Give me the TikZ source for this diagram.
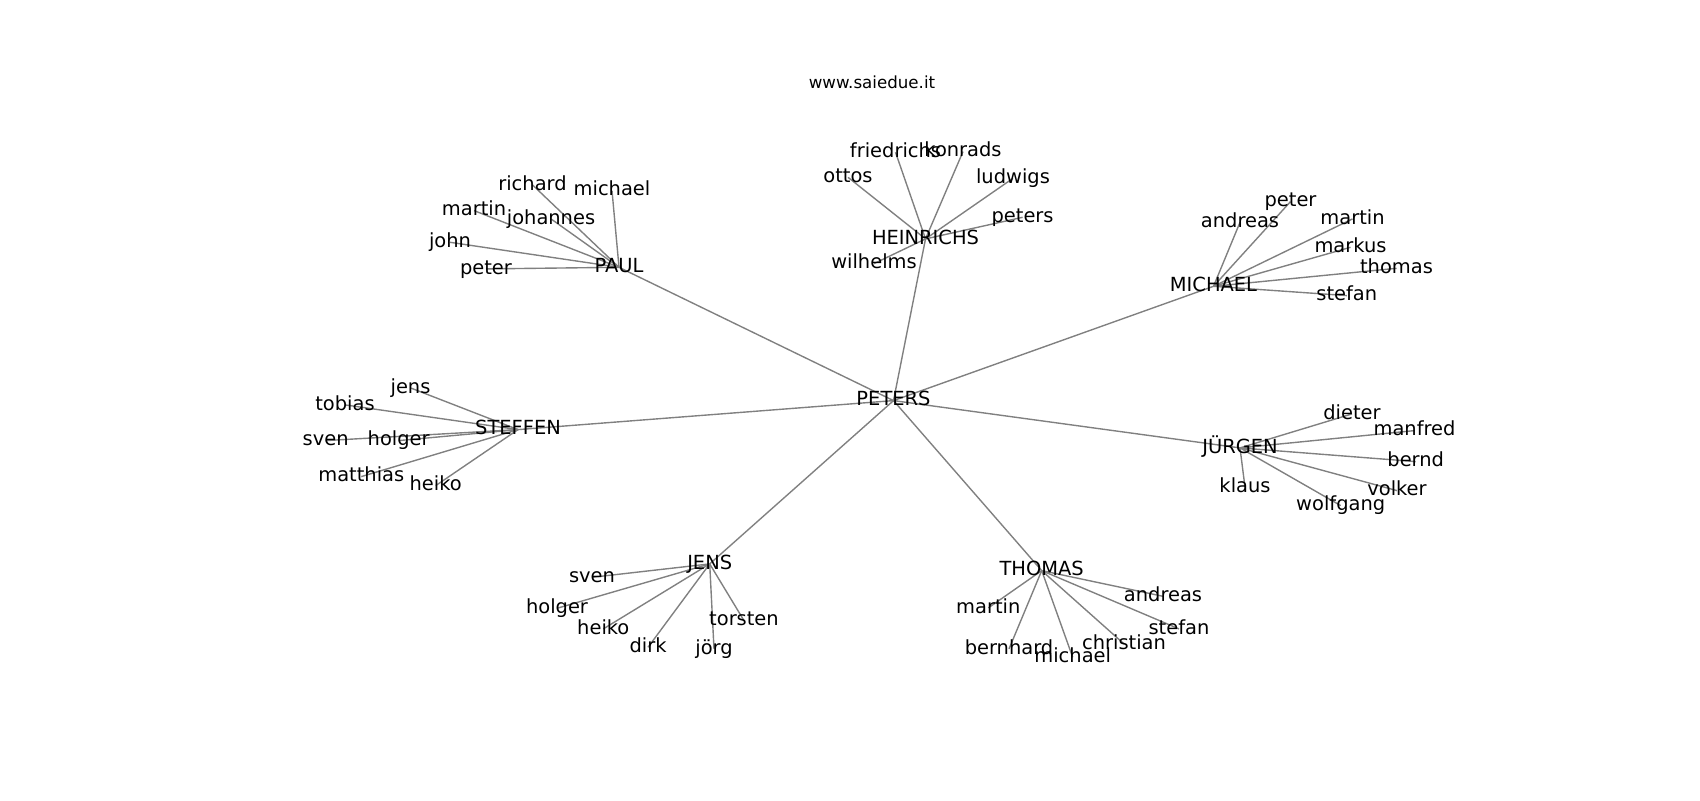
\documentclass[tikz,border=0pt]{standalone}
\usepackage{fontspec}
\setmainfont{DejaVu Sans}
\pgfdeclarelayer{bg}
\pgfsetlayers{bg,main}
\tikzset{
  lbl/.style={inner sep=0pt, outer sep=0pt, text height=10.64pt, text depth=2.91pt,
              font=\fontsize{14}{17}\selectfont, text=black},
  link/.style={draw=black!50, line width=1pt},
  ttl/.style={anchor=base, inner sep=0pt, font=\fontsize{12}{14}\selectfont}
}
\begin{document}
\begin{tikzpicture}[x=0.72pt,y=-0.72pt]
\useasboundingbox (0,0) rectangle (1700,800);
\node[ttl] (title) at (872,88.3) {www.saiedue.it};
\begin{scope}[yshift=-0.72pt]
% centre
\node[lbl] (peters) at (893.5,399.6) {PETERS};
% PAUL group
\node[lbl] (paul) at (619,266.3) {PAUL};
\node[lbl] (pa1) at (532.5,183.9) {richard};
\node[lbl] (pa2) at (612,189.6) {michael};
\node[lbl] (pa3) at (474,209.6) {martin};
\node[lbl] (pa4) at (551,217.9) {johannes};
\node[lbl] (pa5) at (450,241.3) {john};
\node[lbl] (pa6) at (486,267.9) {peter};
% HEINRICHS group
\node[lbl] (hein) at (925.5,237.9) {HEINRICHS};
\node[lbl] (he1) at (895.5,151.3) {friedrichs};
\node[lbl] (he2) at (963,150.6) {konrads};
\node[lbl] (he3) at (848,176.3) {ottos};
\node[lbl] (he4) at (1013,177.3) {ludwigs};
\node[lbl] (he5) at (1022.6,216.3) {peters};
\node[lbl] (he6) at (874,262.6) {wilhelms};
% MICHAEL group
\node[lbl] (mich) at (1213.5,285.3) {MICHAEL};
\node[lbl] (mi1) at (1290.5,200.6) {peter};
\node[lbl] (mi2) at (1240,221.3) {andreas};
\node[lbl] (mi3) at (1352.5,217.9) {martin};
\node[lbl] (mi4) at (1350.5,246.3) {markus};
\node[lbl] (mi5) at (1396.5,267.3) {thomas};
\node[lbl] (mi6) at (1346.8,294.6) {stefan};
% STEFFEN group
\node[lbl] (stef) at (518,428.6) {STEFFEN};
\node[lbl] (st1) at (410.5,386.9) {jens};
\node[lbl] (st2) at (345,403.9) {tobias};
\node[lbl] (st3) at (325.7,439.6) {sven};
\node[lbl] (st4) at (398.7,439.6) {holger};
\node[lbl] (st5) at (361.3,475.6) {matthias};
\node[lbl] (st6) at (435.7,484.6) {heiko};
% JUERGEN group
\node[lbl] (juer) at (1240,446.9) {JÜRGEN};
\node[lbl] (ju1) at (1352,412.9) {dieter};
\node[lbl] (ju2) at (1414.5,429.6) {manfred};
\node[lbl] (ju3) at (1415.7,460.6) {bernd};
\node[lbl] (ju4) at (1245,486.3) {klaus};
\node[lbl] (ju5) at (1397,489.6) {volker};
\node[lbl] (ju6) at (1340.7,504.6) {wolfgang};
% JENS group
\node[lbl] (jens) at (709.7,562.9) {JENS};
\node[lbl] (je1) at (592,576.3) {sven};
\node[lbl] (je2) at (557,607.3) {holger};
\node[lbl] (je3) at (603.3,627.9) {heiko};
\node[lbl] (je4) at (648,646.3) {dirk};
\node[lbl] (je5) at (744,619.6) {torsten};
\node[lbl] (je6) at (714,647.9) {jörg};
% THOMAS group
\node[lbl] (thom) at (1041.7,569.6) {THOMAS};
\node[lbl] (th1) at (1163,595.3) {andreas};
\node[lbl] (th2) at (988.3,606.9) {martin};
\node[lbl] (th3) at (1179,627.9) {stefan};
\node[lbl] (th4) at (1124,642.9) {christian};
\node[lbl] (th5) at (1009,647.9) {bernhard};
\node[lbl] (th6) at (1072.7,656.3) {michael};
\end{scope}
\begin{pgfonlayer}{bg}
\foreach \h in {paul,hein,mich,stef,juer,jens,thom}
  \draw[link] (peters.center) -- (\h.center);
\foreach \h/\p in {paul/pa,hein/he,mich/mi,stef/st,juer/ju,jens/je,thom/th}
  \foreach \i in {1,...,6}
    \draw[link] (\h.center) -- (\p\i.center);
\end{pgfonlayer}
\end{tikzpicture}
\end{document}
